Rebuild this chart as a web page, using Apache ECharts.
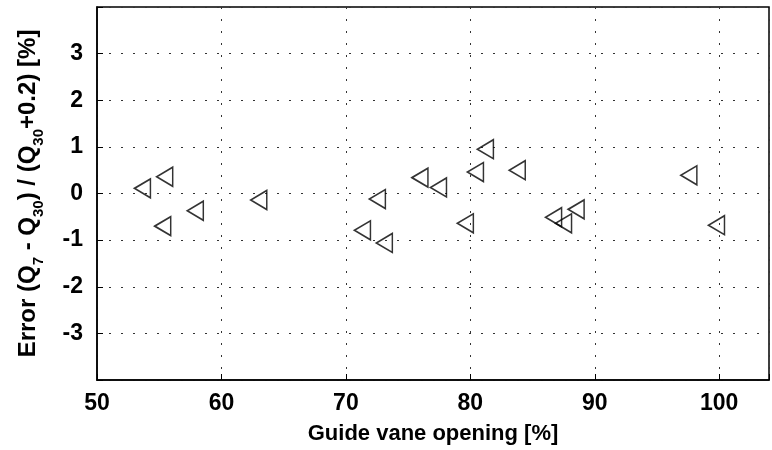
<!DOCTYPE html>
<html>
<head>
<meta charset="utf-8">
<script src="https://cdn.jsdelivr.net/npm/echarts@6/dist/echarts.min.js"></script>
<style>html,body{margin:0;padding:0;background:#fff}#c{width:772px;height:450px}</style>
</head>
<body>
<div id="c"></div>
<script>
var guideVane = [53.65, 55.28, 55.44, 57.9, 63.0, 71.33, 72.53, 73.09, 75.95, 77.44, 79.6, 80.41, 81.21, 83.77, 86.69, 87.49, 88.5, 97.56, 99.78];
var errorPct  = [0.11, -0.70, 0.36, -0.37, -0.14, -0.79, -0.12, -1.06, 0.34, 0.13, -0.64, 0.46, 0.95, 0.50, -0.51, -0.64, -0.34, 0.39, -0.68];
var xTicks = [50, 60, 70, 80, 90, 100];
var yTicks = [-3, -2, -1, 0, 1, 2, 3];

var pts = guideVane.map(function (x, i) { return [x, errorPct[i]]; });
var FONT = 'Liberation Sans';
var chart = echarts.init(document.getElementById('c'), null, {renderer: 'canvas'});
chart.setOption({
  animation: false,
  backgroundColor: '#fff',
  grid: {left: 97, right: 2, top: 7, bottom: 68.5, show: true, borderColor: '#000', borderWidth: 1.5, backgroundColor: 'transparent'},
  xAxis: {
    type: 'value', min: 50, max: 104, interval: 10,
    name: 'Guide vane opening [%]', nameLocation: 'middle', nameGap: 43,
    nameTextStyle: {fontFamily: FONT, fontWeight: 'bold', fontSize: 22, color: '#000'},
    axisLine: {show: true, onZero: false, lineStyle: {color: '#000', width: 1.5}},
    axisTick: {show: true, inside: true, length: 6, lineStyle: {color: '#000', width: 1}},
    axisLabel: {fontFamily: FONT, fontWeight: 'bold', fontSize: 23, color: '#000', margin: 12,
      formatter: function (v) { return xTicks.indexOf(v) >= 0 ? String(v) : ''; }},
    splitLine: {show: true, lineStyle: {color: '#333', width: 1, type: [2, 10]}}
  },
  yAxis: {
    type: 'value', min: -4, max: 4, interval: 1,
    name: '{m|Error (Q}{s|7}{m| - Q}{s|30}{m|) / (Q}{s|30}{m|+0.2) [%]}',
    nameLocation: 'middle', nameRotate: 90, nameGap: 56,
    nameTextStyle: {fontFamily: FONT, fontWeight: 'bold', fontSize: 24, color: '#000',
      rich: {
        m: {fontFamily: FONT, fontWeight: 'bold', fontSize: 24, color: '#000', verticalAlign: 'middle', lineHeight: 26},
        s: {fontFamily: FONT, fontWeight: 'bold', fontSize: 15, color: '#000', verticalAlign: 'middle', lineHeight: 15, padding: [22, 0, 0, 0]}
      }},
    axisLine: {show: true, onZero: false, lineStyle: {color: '#000', width: 1.5}},
    axisTick: {show: true, inside: true, length: 6, lineStyle: {color: '#000', width: 1}},
    axisLabel: {fontFamily: FONT, fontWeight: 'bold', fontSize: 23, color: '#000', margin: 14,
      formatter: function (v) { return yTicks.indexOf(v) >= 0 ? String(v) : ''; }},
    splitLine: {show: true, lineStyle: {color: '#333', width: 1, type: [2, 10]}}
  },
  series: [{
    type: 'scatter',
    data: pts,
    symbol: 'path://M0,9.5L16,0L16,19Z',
    symbolSize: [16, 19],
    symbolKeepAspect: false,
    itemStyle: {color: 'rgba(0,0,0,0)', borderColor: '#000', borderWidth: 1.6}
  }]
});
</script>
</body>
</html>
